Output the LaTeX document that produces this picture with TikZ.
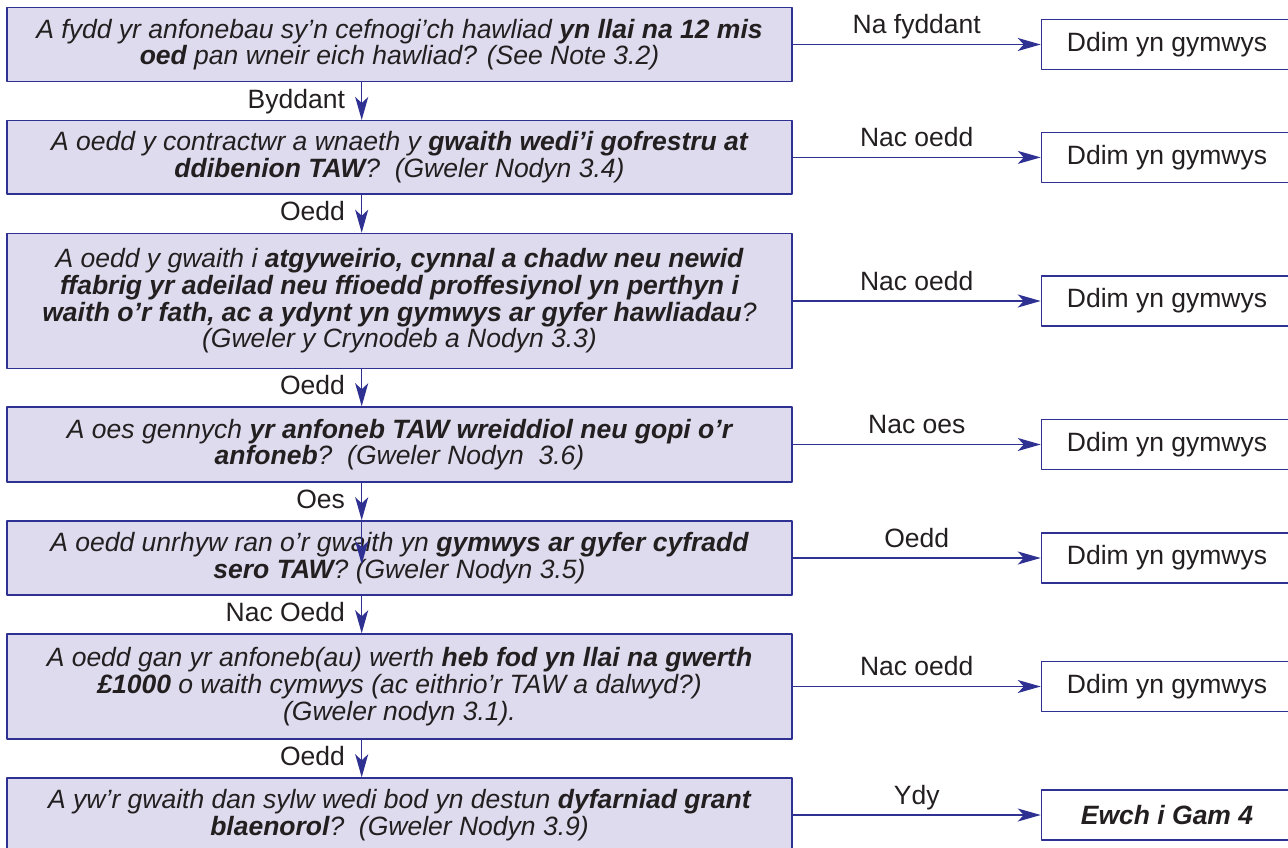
\documentclass[tikz,border=0pt]{standalone}
\usepackage{fontspec}
\setmainfont{Liberation Sans}
\usetikzlibrary{arrows.meta}
\definecolor{navy}{RGB}{46,49,146}
\definecolor{lav}{RGB}{221,219,237}
\definecolor{ink}{RGB}{35,31,32}
\begin{document}
\begin{tikzpicture}[x=1pt,y=-1pt,line join=round,>={Stealth[length=23pt,width=13pt,inset=6pt]},text=ink,
font=\fontsize{26.5}{26.7}\selectfont,
ask/.style={draw=navy,fill=lav,line width=1.5pt,minimum width=785pt,inner sep=0pt,align=center,font=\fontsize{26.5}{26.7}\selectfont\itshape},
nope/.style={draw=navy,fill=white,line width=1.5pt,minimum width=251pt,minimum height=50pt,inner sep=0pt,anchor=west},
link/.style={draw=navy,line width=1.5pt,->},
yes/.style={anchor=base east,xshift=-16pt,yshift=-7pt,inner sep=0pt},
no/.style={anchor=base,yshift=11pt,inner sep=0pt}]
\def\ax{-37.8pt}
\useasboundingbox (0,0) rectangle (1288,848);
\node[ask,minimum height=74.4pt] (b1) at (399.5,44.5) {A fydd yr anfonebau sy’n cefnogi’ch hawliad \textbf{yn llai na 12 mis}\\\textbf{oed} pan wneir eich hawliad? (See Note 3.2)};
\node[ask,minimum height=73.3pt] (b2) at (399.5,157.4) {A oedd y contractwr a wnaeth y \textbf{gwaith wedi’i gofrestru at}\\\textbf{ddibenion TAW}?\ \ (Gweler Nodyn 3.4)};
\node[ask,minimum height=135pt] (b3) at (399.5,301) {A oedd y gwaith i \textbf{atgyweirio, cynnal a chadw neu newid}\\\textbf{ffabrig yr adeilad neu ffioedd proffesiynol yn perthyn i}\\\textbf{waith o’r fath, ac a ydynt yn gymwys ar gyfer hawliadau}?\\(Gweler y Crynodeb a Nodyn 3.3)};
\node[ask,minimum height=75pt] (b4) at (399.5,444.5) {A oes gennych \textbf{yr anfoneb TAW wreiddiol neu gopi o’r}\\\textbf{anfoneb}?\ \ (Gweler Nodyn\ \ 3.6)};
\node[ask,minimum height=74pt] (b5) at (399.5,558) {A oedd unrhyw ran o’r gwaith yn \textbf{gymwys ar gyfer cyfradd}\\\textbf{sero TAW}? (Gweler Nodyn 3.5)};
\node[ask,minimum height=105pt] (b6) at (399.5,686.5) {A oedd gan yr anfoneb(au) werth \textbf{heb fod yn llai na gwerth}\\\textbf{£1000} o waith cymwys (ac eithrio’r TAW a dalwyd?)\\(Gweler nodyn 3.1).};
\node[ask,minimum height=74pt] (b7) at (399.5,815) {A yw’r gwaith dan sylw wedi bod yn destun \textbf{dyfarniad grant}\\\textbf{blaenorol}?\ \ (Gweler Nodyn 3.9)};
\foreach \i/\t in {1/Na fyddant,2/Nac oedd,3/Nac oedd,4/Nac oes,5/Oedd,6/Nac oedd}{
\node[nope] (r\i) at ([xshift=248pt]b\i.east) {Ddim yn gymwys};
\draw[link] (b\i.east) -- node[no]{\t} (r\i.west);
}
\node[nope] (r7) at ([xshift=248pt]b7.east) {\textbf{\textit{Ewch i Gam 4}}};
\draw[link] (b7.east) -- node[no]{Ydy} (r7.west);
\foreach \i/\j/\t in {1/2/Byddant,2/3/Oedd,3/4/Oedd,4/5/Oes,5/6/Nac Oedd,6/7/Oedd}
\draw[link] ([xshift=\ax]b\i.south) -- node[yes]{\t} ([xshift=\ax]b\j.north);
\coordinate (stray) at ([xshift=\ax,yshift=-44pt]b5.north);
\draw[link] ([xshift=\ax]b5.north) -- (stray);
\end{tikzpicture}
\end{document}
